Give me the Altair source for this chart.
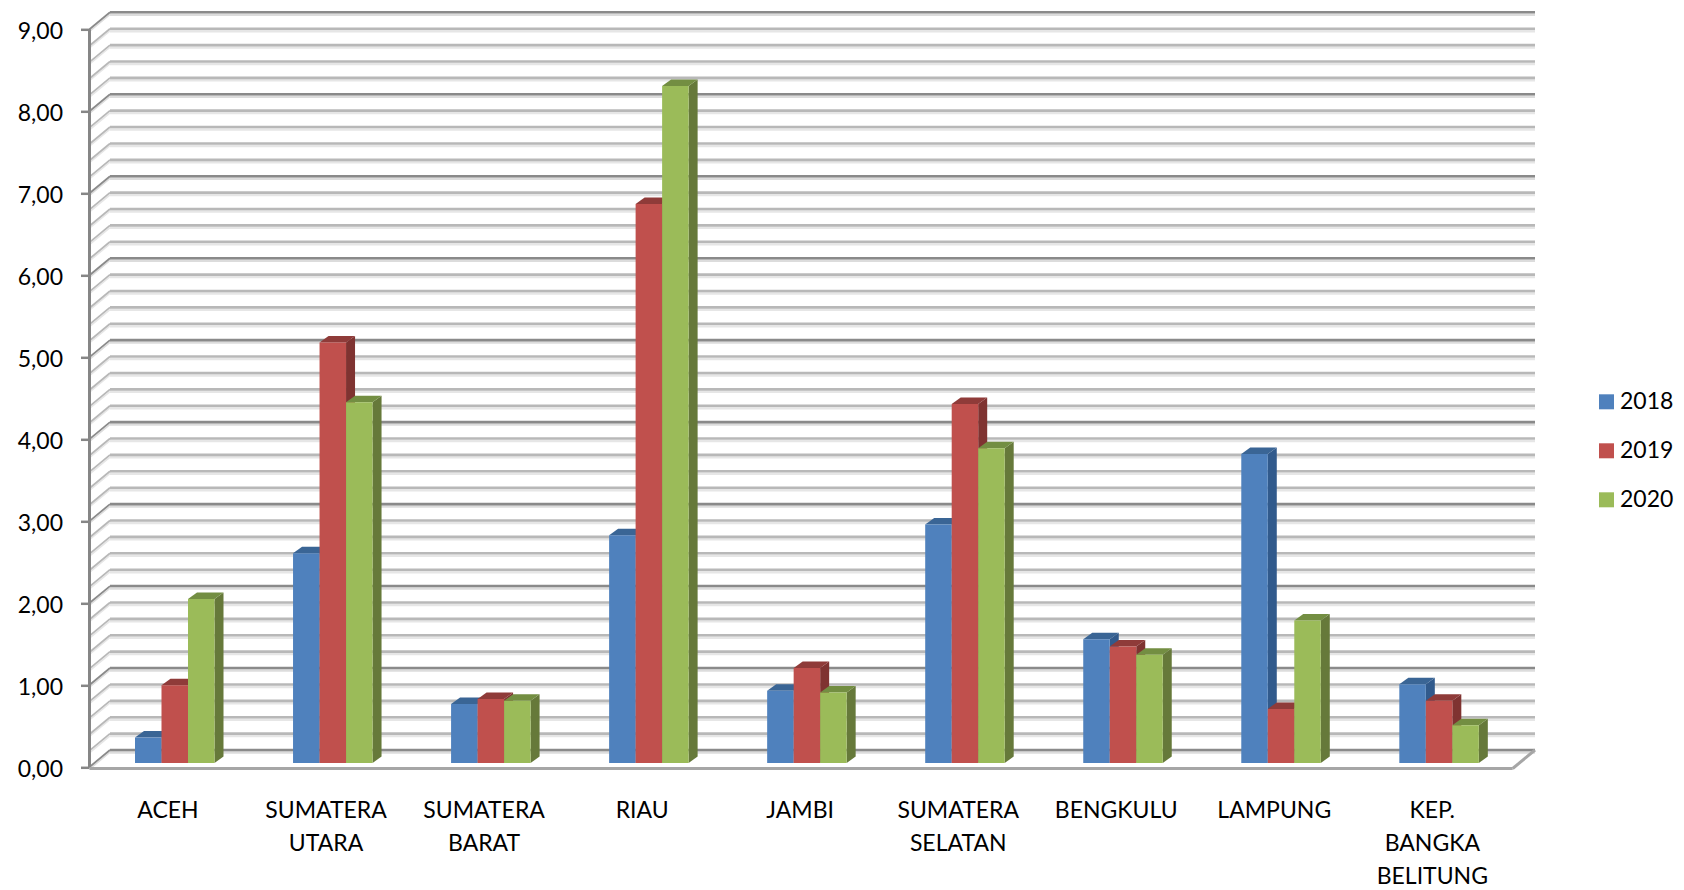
import altair as alt
import pandas as pd

categories = ["ACEH", "SUMATERA|UTARA", "SUMATERA|BARAT", "RIAU", "JAMBI",
              "SUMATERA|SELATAN", "BENGKULU", "LAMPUNG", "KEP.|BANGKA|BELITUNG"]
years = ["2018", "2019", "2020"]
v2018 = [0.31, 2.56, 0.72, 2.78, 0.88, 2.91, 1.51, 3.77, 0.96]
v2019 = [0.95, 5.13, 0.78, 6.82, 1.16, 4.38, 1.42, 0.66, 0.76]
v2020 = [2.00, 4.40, 0.76, 8.26, 0.86, 3.84, 1.32, 1.74, 0.46]
front_colors = ["#4f81bd", "#c0504d", "#9bbb59"]
side_colors = ["#315a8c", "#7f3331", "#66793a"]
top_colors = ["#3a6595", "#8f3b39", "#738e42"]
major_levels = [0, 1, 2, 3, 4, 5, 6, 7, 8, 9]
minor_levels = [round(i * 0.2, 1) for i in range(46) if i % 5 != 0]

FONT = "Lato"
FS = 23
# geometry, in axis units
PX_X = 158.04            # pixels per category
PX_Y = 82.0              # pixels per 1.00 on the value axis
X_MAX = 1445.5 / PX_X
Y_MAX = 9 + 17 / PX_Y
WALL_DX, WALL_DY = 20.5 / PX_X, 17 / PX_Y
BAR_W = 26.5 / PX_X
BAR_X0 = 45.5 / PX_X
BAR_BASE = 4 / PX_Y
DEPTH_DX, DEPTH_DY = 9 / PX_X, 6.5 / PX_Y
LABEL_X = 78 / PX_X
FLOOR_RIGHT = 1423.2 / PX_X

xs = alt.Scale(domain=[0, X_MAX], nice=False, zero=False)
ys = alt.Scale(domain=[0, Y_MAX], nice=False, zero=False)

names = "[" + ",".join(f"'{c}'" for c in categories) + "]"
x_axis = alt.Axis(values=[LABEL_X + i for i in range(len(categories))], title=None,
                  domain=False, ticks=False, grid=False,
                  labelExpr=f"split({names}[floor(datum.value)],'|')",
                  labelFont=FONT, labelFontSize=FS, labelColor="#000000", labelAngle=0,
                  labelAlign="center", labelBaseline="top", labelPadding=32,
                  labelLineHeight=33, labelOverlap=False, labelBound=False, labelFlush=False)
y_axis = alt.Axis(values=major_levels, title=None, domain=False, grid=False, tickSize=9,
                  tickColor="#868686", tickWidth=2.5,
                  labelExpr="replace(format(datum.value,'.2f'),'.',',')",
                  labelFont=FONT, labelFontSize=FS, labelColor="#000000", labelPadding=18,
                  labelOffset=2, labelOverlap=False, labelBound=False, labelFlush=False)
X = lambda f="x": alt.X(f"{f}:Q", scale=xs, axis=x_axis, title=None)
Y = lambda f="y": alt.Y(f"{f}:Q", scale=ys, axis=y_axis, title=None)


def grid_layers(levels, color, shadow, width):
    rows = [{"x": WALL_DX, "x2": X_MAX, "y": v + WALL_DY, "y2": v + WALL_DY,
             "sx": 0, "sx2": WALL_DX, "sy": v, "sy2": v + WALL_DY} for v in levels]
    d = pd.DataFrame(rows)
    d["yshadow"] = d["y"] - 2.4 / PX_Y
    d["syshadow"] = d["sy"] - 2.2 / PX_Y
    d["sy2shadow"] = d["sy2"] - 2.2 / PX_Y
    base = alt.Chart(d)
    return [
        base.mark_rule(color=shadow, strokeWidth=width).encode(x=X("x"), x2="x2:Q", y=Y("yshadow")),
        base.mark_rule(color=color, strokeWidth=width).encode(x=X("x"), x2="x2:Q", y=Y("y")),
        base.mark_rule(color=shadow, strokeWidth=1.5).encode(x=X("sx"), x2="sx2:Q", y=Y("syshadow"), y2="sy2shadow:Q"),
        base.mark_rule(color=color, strokeWidth=1.8).encode(x=X("sx"), x2="sx2:Q", y=Y("sy"), y2="sy2:Q"),
    ]


layers = []
layers += grid_layers(minor_levels, "#b8b8b8", "#e6e6e6", 2.6)
layers += grid_layers(major_levels, "#8a8a8a", "#dcdcdc", 2.6)

# front axis line, floor edge
frame = pd.DataFrame([
    {"x": 0, "x2": 0, "y": 0, "y2": 9, "w": 1},
    {"x": 0, "x2": FLOOR_RIGHT, "y": -1.5 / PX_Y, "y2": -1.5 / PX_Y, "w": 2},
    {"x": FLOOR_RIGHT, "x2": X_MAX, "y": -1.5 / PX_Y, "y2": WALL_DY, "w": 3},
])
layers.append(alt.Chart(frame[frame.w == 1]).mark_rule(color="#868686", strokeWidth=3)
              .encode(x=X("x"), y=Y("y"), y2="y2:Q"))
layers.append(alt.Chart(frame[frame.w >= 2]).mark_rule(color="#a6a6a6", strokeWidth=3)
              .encode(x=X("x"), x2="x2:Q", y=Y("y"), y2="y2:Q"))

# bars: side, top and front per series, so that later series cover earlier ones
for s, (year, vals) in enumerate(zip(years, [v2018, v2019, v2020])):
    side, top, front = [], [], []
    for i, v in enumerate(vals):
        x0 = BAR_X0 + i + s * BAR_W
        x1 = x0 + BAR_W
        t = v + BAR_BASE
        front.append({"x": x0, "x2": x1, "y": BAR_BASE, "y2": t, "Serie": year})
        side += [{"bar": i, "x": x1, "y": t, "y2": BAR_BASE},
                 {"bar": i, "x": x1 + DEPTH_DX, "y": t + DEPTH_DY, "y2": BAR_BASE + DEPTH_DY}]
        top += [{"bar": i, "x": x0, "y": t, "y2": t},
                {"bar": i, "x": x0 + DEPTH_DX, "y": t, "y2": t + DEPTH_DY},
                {"bar": i, "x": x1, "y": t, "y2": t + DEPTH_DY},
                {"bar": i, "x": x1 + DEPTH_DX, "y": t + DEPTH_DY, "y2": t + DEPTH_DY}]
    layers.append(alt.Chart(pd.DataFrame(side)).mark_area(color=side_colors[s], orient="vertical")
                  .encode(x=X("x"), y=Y("y"), y2="y2:Q", detail="bar:N"))
    layers.append(alt.Chart(pd.DataFrame(top)).mark_area(color=top_colors[s], orient="vertical")
                  .encode(x=X("x"), y=Y("y"), y2="y2:Q", detail="bar:N"))
    layers.append(alt.Chart(pd.DataFrame(front)).mark_rect().encode(
        x=X("x"), x2="x2:Q", y=Y("y"), y2="y2:Q",
        color=alt.Color("Serie:N", scale=alt.Scale(domain=years, range=front_colors),
                        legend=alt.Legend(orient="none", legendX=1505.5, legendY=378, title=None,
                                          symbolType="square", symbolSize=225, symbolStrokeWidth=0,
                                          labelFont=FONT, labelFontSize=FS, labelColor="#000000",
                                          rowPadding=25, labelOffset=2, padding=0))))

chart = alt.layer(*layers).properties(
    width=1445.5, height=754.7, autosize="none", background="#ffffff",
    padding={"left": 81.5, "top": 4.3, "right": 141, "bottom": 122},
).configure_view(stroke=None)

chart.save("out.html", embed_options={"renderer": "svg", "actions": False})
